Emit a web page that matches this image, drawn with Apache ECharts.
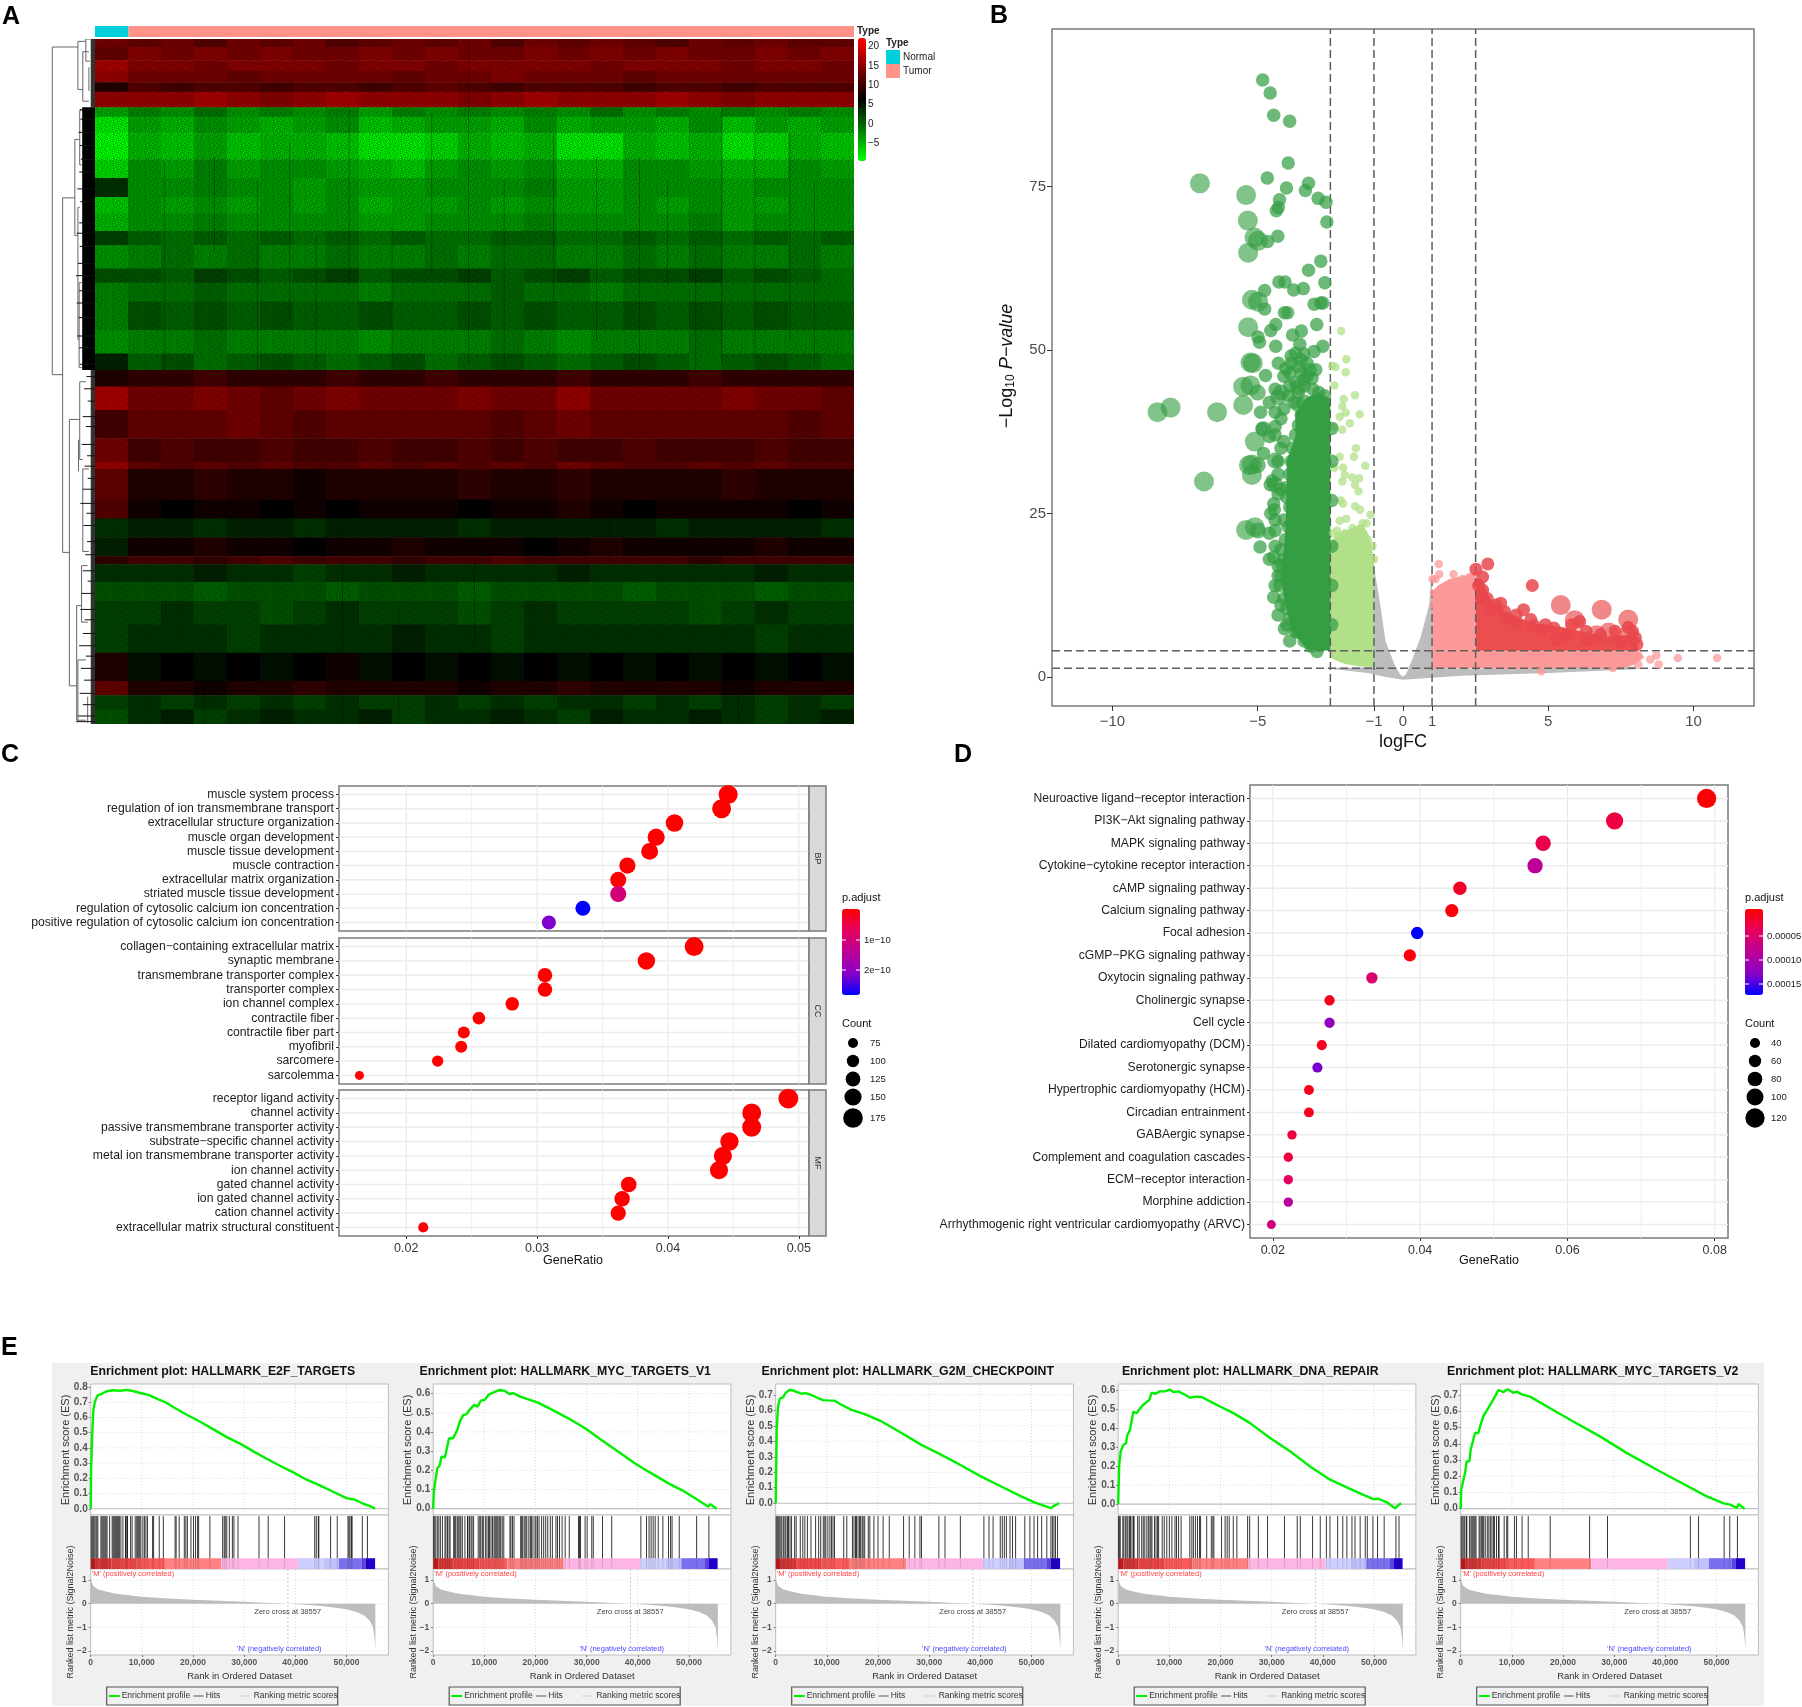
<!DOCTYPE html>
<html>
<head>
<meta charset="utf-8">
<title>Expression, enrichment and GSEA panels</title>
<style>
  html, body { margin: 0; background: #fff; }
  #chart { width: 1802px; height: 1707px; }
</style>
<script src="https://cdn.jsdelivr.net/npm/echarts@6/dist/echarts.min.js"></script>
</head>
<body>
<div id="chart"></div>
<script>
// ---- Panel A: heatmap, first column is the Normal block, the others Tumor
const sampleCounts = [52, 1127]
const heatRowEnds = [17,45,68,92,112,145,165,200,255,295,335,370,407,437,487,517,557,617,667,702,737,787,847,897,912,977,1017,1057,1097,1114,1152,1192,1242,1302,1362,1392,1422,1453]
const heatRows = [
  [13,12,13,11,13,12,13,11,12,13,12,13,11,13,12,13,12,11,13,12,13,12,12],
  [12,14,13,14,13,14,13,13,14,13,14,13,13,14,13,14,13,14,13,13,14,13,14],
  [16,14,14,13,14,14,14,13,14,14,13,14,14,14,14,13,14,14,14,13,14,14,13],
  [15,13,13,13,12,13,13,13,13,12,13,13,14,13,13,13,12,13,13,13,13,13,13],
  [8,11,10,11,11,10,11,11,10,11,12,11,10,11,11,11,10,11,11,10,11,11,11],
  [15,15,15,16,15,14,15,16,15,15,15,14,15,16,15,15,15,16,15,14,15,15,15],
  [-4,-2,-3,-1,-3,-2,-3,-2,-4,-2,-3,-2,-3,-2,-3,-1,-3,-2,-3,-2,-3,-2,-3],
  [-8,-4,-5,-3,-4,-5,-4,-3,-6,-5,-4,-4,-5,-3,-5,-4,-4,-5,-3,-6,-4,-5,-4],
  [-9,-5,-6,-4,-6,-5,-5,-6,-8,-8,-7,-5,-6,-5,-8,-8,-5,-6,-5,-8,-7,-5,-6],
  [-7,-3,-4,-2,-4,-3,-3,-4,-5,-6,-4,-3,-4,-3,-5,-5,-3,-3,-4,-5,-5,-3,-4],
  [3,-3,-3,-2,-3,-3,-4,-3,-4,-4,-3,-3,-3,-2,-4,-4,-3,-3,-3,-4,-3,-3,-3],
  [-6,-3,-4,-3,-4,-3,-4,-3,-5,-4,-4,-3,-4,-3,-4,-4,-3,-4,-3,-4,-4,-3,-3],
  [-5,-3,-3,-2,-3,-3,-3,-3,-4,-4,-3,-3,-3,-2,-3,-3,-3,-3,-2,-4,-3,-3,-3],
  [2,0,-1,0,-1,0,-1,0,-1,0,-1,-1,0,0,-1,-1,0,-1,0,-1,0,-1,0],
  [-3,-2,-1,-2,-1,-2,-2,-1,-2,-2,-1,-2,-1,-1,-2,-2,-1,-2,-1,-2,-2,-1,-2],
  [1,1,0,2,1,0,1,2,0,1,1,2,0,1,2,0,1,1,2,0,1,0,-1],
  [-2,-1,-1,0,-1,-1,-1,-1,-2,-1,-1,-1,0,-1,-1,-2,-1,-1,-1,-1,-1,-1,-1],
  [-2,1,0,1,0,1,0,0,1,0,0,1,0,1,0,0,1,0,1,0,1,0,0],
  [-3,-2,-2,-1,-2,-2,-2,-2,-3,-2,-2,-2,-1,-2,-3,-2,-2,-2,-1,-2,-2,-2,-2],
  [4,0,1,-1,0,1,0,-1,0,1,-1,0,1,0,-1,0,1,0,-1,0,1,0,-1],
  [8,9,9,10,9,9,9,10,9,9,10,9,9,9,10,9,9,9,10,9,9,9,9],
  [16,13,13,14,13,12,13,14,13,13,13,14,13,13,15,13,13,13,13,14,13,13,12],
  [10,12,12,12,13,12,11,12,12,12,12,12,11,12,13,12,12,12,12,12,12,11,12],
  [13,10,11,10,10,11,10,10,11,10,10,11,10,11,10,10,11,10,10,10,11,10,10],
  [15,12,11,12,11,12,11,11,12,11,12,11,12,11,13,12,11,11,12,11,12,11,11],
  [12,8,8,9,8,8,7,8,8,8,8,9,8,8,9,8,8,8,8,9,8,8,8],
  [11,7,6,7,7,6,7,6,7,7,7,6,7,7,8,7,6,7,7,7,7,6,7],
  [3,4,4,3,4,4,3,4,4,4,4,3,4,4,4,4,4,3,4,4,4,4,3],
  [4,7,7,8,7,7,6,7,7,8,7,7,7,6,7,8,7,7,7,7,8,7,7],
  [9,10,10,9,10,11,10,10,10,9,10,10,11,10,10,10,10,10,9,10,10,10,10],
  [3,3,3,4,3,3,2,3,3,4,3,3,3,3,4,3,3,3,3,3,4,3,3],
  [1,1,1,0,1,1,1,0,1,1,1,0,1,1,1,1,0,1,1,1,0,1,1],
  [2,2,3,2,2,1,2,3,2,2,2,1,2,3,2,2,2,2,1,2,3,2,2],
  [2,3,3,3,2,3,3,3,3,4,3,3,2,3,3,3,3,3,3,3,2,3,3],
  [8,5,6,5,6,5,6,7,5,6,5,6,5,6,5,6,5,6,5,6,5,6,5],
  [12,8,8,7,8,8,9,8,8,8,8,7,8,8,9,8,8,8,8,7,8,8,8],
  [2,3,2,3,2,3,2,3,2,2,3,2,3,2,3,3,2,3,2,3,2,3,2],
  [1,3,4,2,3,4,3,3,4,2,3,3,4,3,2,4,3,3,4,3,2,3,4]
]
const heatTicks = [20, 15, 10, 5, 0, -5]
// dark sample streaks seen in the map: [column, row1, row2]
const heatDarkStreaks = [[3.62,250,450],[4.92,300,700],[7.7,150,520],[9,400,700],[11.32,0,145],[11.32,150,690],[13.9,200,560],[16.5,250,700],[17.35,300,520],[19,150,690],[21.06,200,640],[2.1,260,700],[5.9,220,600],[6.7,420,700],[10.2,160,500],[12.4,300,700],[15.2,250,640],[18.2,430,700],[20,200,680],[21.8,300,690],[7.5,1000,1453],[11.5,1100,1300],[15.6,1000,1120],[3.3,1300,1453],[9.2,1200,1453],[19.5,1300,1453]]
// fine grain laid over the map, only a look
const heatGrainTile = [
  '..x...X..x....x..X...x....X.x...',
  '.X...x....x.X.....x..X.x.....x..',
  '...x...x.X.....x.X.....x..X....x',
  'x....X.....x.x....x.X....x..x.X.',
  '..X.x...x.....X.x.....x.X.....x.',
  '.x....x..X.x.....X.x.....x.X....',
  '....X...x....x.x....x.X.....x.X.',
  'x.x...x...X.....X.x.....x.x.....',
  '...x.X..x...x.x.....x.X.....X.x.',
  '.X....x...x.....X.x....x..x....x',
  '..x.x...X...x.x.....X....x..X...',
  'x....x.x...X.....x.x..x.X....x..'
]

// dendrogram: [height1, row1, height2, row2]
const dendroLinks = [
  [70,17,70,712],[70,17,28,17],[70,712,53,712],
  [28,5,28,107],[28,5,15,5],[28,107,20,107],[20,27,20,132],[20,27,10,27],[20,132,10,132],[15,0,15,47],[15,0,8,0],[15,47,8,47],[10,60,10,110],
  [53,337,53,1089],[53,337,33,337],[53,1089,42,1089],
  [33,213,33,417],[33,213,25,213],[33,417,28,417],[25,152,25,267],[25,152,22,152],[25,267,22,267],[28,357,28,637],[28,357,25,357],[28,637,26,637],[26,517,26,697],[26,517,22,517],[26,697,22,697],
  [42,807,42,1372],[42,807,25,807],[42,1372,30,1372],[25,727,25,892],[25,727,15,727],[25,892,20,892],[27,850,27,917],[20,912,20,1087],[20,912,10,912],[20,1087,10,1087],
  [22,1117,22,1237],[22,1117,12,1117],[22,1237,12,1237],[30,1202,30,1445],[30,1202,22,1202],[30,1445,15,1445],[28,1317,28,1447],[28,1317,15,1317],[12,1395,12,1450]
]
// dendrogram leaf clusters: [row1, row2, height]
const dendroLeafBlocks = [[0,145,7],[145,702,21],[702,1453,7]]
const dendroLeafRows = [[150,25],[170,24],[198,27],[226,25],[255,23],[282,26],[318,29],[345,24],[390,26],[412,30],[440,25],[476,28],[502,31],[534,26],[560,30],[591,27],[630,29],[655,26],[690,25],[716,14],[742,18],[768,12],[801,20],[822,15],[860,22],[884,13],[906,17],[932,12],[955,20],[985,24],[1006,14],[1032,19],[1066,13],[1094,16],[1128,20],[1150,12],[1176,22],[1210,24],[1232,17],[1261,20],[1287,26],[1309,15],[1335,23],[1360,18],[1388,25],[1412,20],[1436,28],[1448,31]]

// ---- Panel B: volcano
const logFcTicks = [-10, -5, -1, 0, 1, 5, 10]
const logPTicks = [0, 25, 50, 75]
const logFcCutoffs = [-2.5, -1, 1, 2.5]
const logPCutoffs = [1.33, 4]
// dense clouds, outlined as [logFC, -log10 P]
const greyCloud = [[-2.7,1.4],[-1,1.5],[-1,16.8],[-0.8,11.6],[-0.6,5.5],[-0.3,2],[-0.1,0.4],[0,0.1],[0.1,0.4],[0.3,2.5],[0.6,6],[0.9,11],[1,16.8],[1,1.4],[2.5,1.2],[5,1.4],[8,1.6],[8,1.2],[5,0.6],[2,0.2],[1,-0.1],[0,-0.4],[-0.6,0],[-1.2,0.6],[-2,1]]
const lightGreenCloud = [[-2.5,3],[-2.5,20],[-2.3,22],[-1.9,22.5],[-1.4,23.5],[-1.15,21.5],[-1,18],[-1,1.5],[-1.5,1.6],[-2,2],[-2.35,2.6]]
const pinkCloud = [[1,1.3],[1,13],[1.2,14],[1.6,15],[2.1,15.5],[2.5,16],[2.5,4],[8.1,4],[8.3,3],[8,2],[7.5,1.2],[6,1.4],[4,1.2],[2.5,1.3]]
const redCloud = [[2.5,4],[2.5,15],[2.7,15],[3,12],[3.5,10],[4.5,8.2],[5.5,7.6],[7,6.2],[8,6.5],[8.1,4]]
const darkGreenCloud = [[-2.5,4],[-2.5,42.5],[-2.9,43.5],[-3.3,42.8],[-3.7,40.5],[-3.7,36.8],[-4,33.1],[-4,29.4],[-4.05,22],[-4.2,14.6],[-3.85,7.2],[-3.3,4.2]]
const downLarge = [[-6.99,75.5],[-5.4,73.7],[-5.34,69.8],[-5.11,67.2],[-4.99,66.7],[-5.33,64.9],[-5.2,57.7],[-4.99,57.4],[-5.33,53.5],[-5.17,48],[-5.25,48.1],[-5.5,44.4],[-5.25,44.6],[-5.5,41.6],[-6.4,40.5],[-8.45,40.5],[-8,41.2],[-5.1,36],[-5.2,32.5],[-5.3,32.4],[-6.85,29.9],[-5.2,30.9],[-5.4,22.5],[-5.1,22.9]]
const downMid = [[-5,32.4],[-4.4,33.1],[-4.99,22.4],[-4.4,29.4],[-4.8,37.9],[-5,43.5],[-4.2,43.5],[-3.6,44.3],[-3.6,41.7],[-4.3,42.8],[-3.4,42]]
const downSmall = [[-4.83,91.3],[-4.57,89.3],[-4.45,85.9],[-3.9,85],[-3.95,78.6],[-4.67,76.3],[-3.25,75.5],[-4.01,74.8],[-3.36,74.4],[-4.25,73],[-2.92,73.2],[-2.65,72.6],[-4.29,71.8],[-4.36,71.3],[-2.62,69.6],[-4.31,67.4],[-4.66,66.6],[-2.83,63.6],[-3.25,62.2],[-2.69,60.3],[-4.27,60.4],[-4.06,60.4],[-3.76,59.2],[-3.43,59.4],[-4.76,59.1],[-4.76,56.3],[-4.08,55.7],[-3.97,55.7],[-2.83,57.2],[-3.06,57],[-2.76,57.2],[-2.97,53.9],[-4.38,53.9],[-4.55,53],[-3.5,52.9],[-3.8,52.3],[-4.99,52],[-4.94,51.2],[-4.38,50.6],[-3.55,50.9],[-2.76,50.6],[-3.06,49.8],[-3.41,49.4],[-3.85,49.1],[-4.29,48],[-4.73,46.1],[-3.85,48],[-4.03,47.2],[-3.5,46.5],[-3.13,45.7],[-4.9,40.5],[-4.4,40.5],[-4.4,38.3],[-4.85,38],[-4.6,36.8],[-4.8,34.2],[-4.2,35],[-4.57,29.4],[-4.2,28.7],[-4.45,26.5],[-4.43,25.6],[-4.55,25],[-4.4,22.4],[-4.92,19.9],[-4.45,18.3],[-4.18,17.2],[-4.45,12.2],[-4.08,7.4],[-3.62,6.8],[-3.17,4.7],[-2.96,3.9],[-3.4,5.5],[-3.7,7],[-3.9,9],[-4,10.5],[-4.1,12],[-4.25,14],[-4.2,15.5],[-4.3,17],[-4.1,18],[-4.2,19.5],[-4.05,21],[-3.95,23],[-4.1,24],[-3.9,26],[-4,27.5],[-4,29],[-3.9,31],[-3.85,33],[-3.8,35],[-3.7,37],[-3.6,38.5],[-3.5,40],[-3.75,42],[-3.6,43.5],[-3.4,44.5],[-3.1,44],[-2.9,43.5],[-2.7,43],[-3.3,46],[-3.7,45],[-3.95,43],[-4.1,41],[-2.45,38],[-2.45,33],[-2.45,27],[-2.45,20],[-2.45,14],[-2.45,8],[-3.2,47],[-3.5,48.5],[-3.9,46.5],[-3.6,47.5],[-3.3,48],[-3.7,49.5],[-4.1,46],[-3,47],[-3.4,45.5],[-3.9,44.5],[-4.4,44],[-4.6,42],[-4.2,39.5],[-4.4,37],[-4.1,36],[-4.3,33],[-4.3,31],[-4.5,30],[-4.3,28],[-4.4,24],[-4.6,22],[-4.4,20],[-4.6,18],[-4.3,15.5],[-4.4,14],[-4.2,11],[-4.3,9.5],[-4,8],[-3.9,5.5]]
const midLightGreen = [[-2.13,52.9],[-1.95,48.6],[-2.44,47.6],[-2.32,47.4],[-1.97,46.6],[-2.36,44.6],[-1.65,43.1],[-2.04,42.5],[-2.09,41.4],[-1.49,40.2],[-2.18,39.8],[-1.97,40.4],[-1.83,38.8],[-2.09,37.8],[-2.36,38.3],[-1.62,35],[-1.69,33.7],[-2.18,33.7],[-2.36,32],[-2.06,32],[-1.3,32.3],[-2,30.9],[-1.74,30.5],[-1.51,30.4],[-2.09,29.9],[-1.65,29.4],[-1.53,28.4],[-2.14,27],[-2.06,26.5],[-1.65,26.1],[-1.48,25.6],[-1.12,24.8],[-1.95,24.2],[-1.39,23.5],[-1.74,22.8],[-2.27,22.4],[-2.18,23.9],[-1.25,23.5],[-2.4,22],[-2.2,21],[-2,22],[-1.8,22],[-1.6,21.5],[-1.4,22],[-1.2,21],[-1.05,20],[-1,18]]
const upLarge = [[5.43,11],[6.84,10.3],[7.75,8.8],[5.91,8.7],[6.66,6.4],[7.08,6.8],[7.75,6.4]]
const upSmall = [[2.92,17.3],[2.51,16.5],[2.74,15.3],[2.74,13.3],[4.45,14],[3.36,11.3],[3.01,10.2],[4.15,10.3],[6.08,8.5],[7.75,7.6],[4.5,7.9],[3.53,9],[3.88,8.3],[4.76,7.2],[5.64,6.4],[5.29,5.7],[6.34,5.7],[7.49,5.3],[2.6,14],[2.7,12],[2.9,12],[3.2,11],[3.5,10],[3.9,9.5],[4.4,8.8],[4.9,8],[5.2,7.5],[5.8,8],[6.3,7],[6.8,6.5],[7.3,7],[7.9,7],[8,6],[8.05,5]]
const upPale = [[1.23,17.3],[1.25,15.7],[1.12,15],[1.02,15],[1.74,15.7],[2.04,15],[2.3,15.3],[1.34,13.5],[1.07,12.8],[8.1,3.3],[8.72,3.3],[8.51,2.7],[8.8,1.9],[9.46,2.9],[10.81,2.9],[8.1,1.9],[7.22,1.4],[7.66,2.4],[4.76,0.9],[1.05,11],[1.3,12.5],[1.5,14],[1.6,13.5],[1.9,14.5],[2.2,14.8]]

// ---- Panel C: GO dot plot
const ratioTicksC = [0.02, 0.03, 0.04, 0.05]
const ratioMinorC = [0.025, 0.035, 0.045]
const bpTerms = ['muscle system process','regulation of ion transmembrane transport','extracellular structure organization','muscle organ development','muscle tissue development','muscle contraction','extracellular matrix organization','striated muscle tissue development','regulation of cytosolic calcium ion concentration','positive regulation of cytosolic calcium ion concentration']
const bpRatio = [0.0446,0.0441,0.0405,0.0391,0.0386,0.0369,0.0362,0.0362,0.0335,0.0309]
const bpCount = [170,168,154,149,147,140,138,138,127,117]
const bpPadj = [1e-12,1e-12,1e-12,1e-12,1e-12,2e-12,1e-12,1.05e-10,2.85e-10,2.2e-10]
const ccTerms = ['collagen\u2212containing extracellular matrix','synaptic membrane','transmembrane transporter complex','transporter complex','ion channel complex','contractile fiber','contractile fiber part','myofibril','sarcomere','sarcolemma']
const ccRatio = [0.042,0.03835,0.0306,0.0306,0.0281,0.02555,0.0244,0.0242,0.0224,0.01642]
const ccCount = [168,153,122,122,112,102,97,96,89,65]
const ccPadj = [1e-12,1e-12,1e-12,1e-12,1e-12,1e-12,1e-12,1e-12,1e-12,4e-12]
const mfTerms = ['receptor ligand activity','channel activity','passive transmembrane transporter activity','substrate\u2212specific channel activity','metal ion transmembrane transporter activity','ion channel activity','gated channel activity','ion gated channel activity','cation channel activity','extracellular matrix structural constituent']
const mfRatio = [0.0492,0.0464,0.0464,0.0447,0.0442,0.0439,0.037,0.0365,0.0362,0.0213]
const mfCount = [178,168,168,162,160,159,134,132,131,77]
const mfPadj = [1e-12,1e-12,1e-12,1e-12,1e-12,1e-12,1e-12,1e-12,1e-12,4e-12]
const padjTicksC = [1e-10, 2e-10]
const countLegendC = [75, 100, 125, 150, 175]

// ---- Panel D: KEGG dot plot
const ratioTicksD = [0.02, 0.04, 0.06, 0.08]
const ratioMinorD = [0.03, 0.05, 0.07]
const keggTerms = ['Neuroactive ligand\u2212receptor interaction','PI3K\u2212Akt signaling pathway','MAPK signaling pathway','Cytokine\u2212cytokine receptor interaction','cAMP signaling pathway','Calcium signaling pathway','Focal adhesion','cGMP\u2212PKG signaling pathway','Oxytocin signaling pathway','Cholinergic synapse','Cell cycle','Dilated cardiomyopathy (DCM)','Serotonergic synapse','Hypertrophic cardiomyopathy (HCM)','Circadian entrainment','GABAergic synapse','Complement and coagulation cascades','ECM\u2212receptor interaction','Morphine addiction','Arrhythmogenic right ventricular cardiomyopathy (ARVC)']
const keggRatio = [0.0789,0.0664,0.0567,0.0556,0.0454,0.0443,0.0396,0.0386,0.03345,0.0277,0.0277,0.02665,0.02605,0.0249,0.0249,0.0226,0.0221,0.0221,0.0221,0.0198]
const keggCount = [120,101,86,85,69,67,60,59,51,42,42,40,40,38,38,34,34,34,34,30]
const keggPadj = [3e-6,3e-5,3.5e-5,9e-5,2e-5,5e-6,1.79e-4,6e-6,5.5e-5,1.5e-5,1.25e-4,1.5e-5,1.4e-4,1.3e-5,1.3e-5,3e-5,3e-5,4.5e-5,9.5e-5,7e-5]
const padjTicksD = [0.00005, 0.0001, 0.00015]
const countLegendD = [40, 60, 80, 100, 120]

// ---- Panel E: GSEA plots
const rankTicks = [0, 10000, 20000, 30000, 40000, 50000]
const metricTicks = [1, 0, -1, -2]
const zeroCross = 38557
const metricRank = [0,150,500,1500,3000,5000,8000,10000,15000,20000,25000,30000,35000,38557,42000,45000,48000,50000,52000,53500,54500,55200,55500,55650]
const metricScore = [1.15,0.95,0.75,0.6,0.52,0.42,0.34,0.29,0.22,0.17,0.12,0.08,0.03,0,-0.05,-0.1,-0.17,-0.24,-0.35,-0.5,-0.72,-1,-1.5,-2]
const stripEnds = [0,1000,4000,9000,14500,25500,40500,45500,48500,53000,53800,55600]
const stripColors = ['#c81e1e','#d93a3a','#f04848','#fb5a5a','#ff8181','#fdb6e4','#cfcfff','#c0c0fa','#7a70ee','#5a44e0','#2200cc']

const e2fRank = [0,65,260,520,850,1300,2150,3100,4400,5700,7000,8300,9650,11300,12900,14900,16200,18800,21400,24000,26600,29200,31800,34400,37000,39600,42200,44800,47400,50000,51700,53300,54600,55600]
const e2fEs = [0,.235,.454,.651,.706,.743,.756,.772,.779,.776,.781,.774,.761,.748,.724,.695,.667,.618,.572,.522,.471,.428,.377,.329,.283,.239,.191,.154,.112,.07,.059,.033,.018,0]
const e2fHits = [100,300,500,700,1000,1200,1400,2000,2200,2400,2600,2800,3000,3200,3700,4200,4400,4600,4800,5000,5200,5400,5600,5900,6300,6800,6900,7100,7200,7800,8100,8700,9000,9200,9400,9600,9800,10200,10500,10800,11100,12100,12300,13400,14200,16500,16700,17300,18300,18600,18900,19600,20100,20500,20900,21100,23300,25800,26100,26300,26600,27100,27700,28000,28800,32900,34700,37900,43800,44100,44500,44600,46900,48200,50300,50500,50700,51000,51100,53100,54100]

const myc1Rank = [0,100,450,800,1300,1600,2300,3100,3900,4700,5200,5900,6500,7200,8000,8700,9300,10100,10800,11700,13000,14000,15000,15600,17000,18600,20500,23100,26400,29700,32900,36200,39400,42100,46000,48600,51200,53800,54100,55400]
const myc1Es = [0,.08,.15,.21,.228,.271,.268,.367,.367,.41,.454,.489,.492,.518,.541,.532,.563,.567,.593,.605,.619,.614,.597,.603,.584,.57,.553,.518,.471,.419,.358,.297,.237,.193,.132,.097,.054,.01,.024,0]
const myc1Hits = [100,200,500,800,1100,1400,1800,2300,2500,2800,3100,3300,4000,4200,4400,4700,4900,5200,5400,5700,6200,6700,6800,7100,7400,7600,7900,8800,9100,9300,9600,9800,10200,10500,10800,11000,11300,11600,11900,12100,12300,12500,12700,13000,13200,13500,13800,15000,15200,15500,15800,17100,17300,17500,17800,18100,18300,18700,19000,19200,19500,19900,20100,20400,20700,21200,21600,22000,22400,22900,23300,24000,24300,24700,25200,25800,26600,28400,28600,28800,29700,30100,31000,31300,33100,34900,40600,41700,42200,42600,43000,43400,44000,44900,46000,46400,46700,48100,51500,53900]

const g2mRank = [0,100,200,450,800,1430,1900,2740,3400,4370,5020,5800,6650,7300,8280,9260,10240,11540,12850,14800,17400,20700,24600,28500,32400,36300,40200,44100,48100,50600,53800,54400,55400]
const g2mEs = [0,.216,.474,.625,.675,.683,.711,.733,.728,.716,.707,.711,.703,.694,.679,.666,.664,.662,.636,.603,.575,.528,.453,.377,.312,.244,.172,.108,.043,.006,-.032,-.017,0]
const g2mHits = [100,300,500,700,1000,1200,1500,1800,2000,2300,2500,2800,3100,3700,4000,4800,5300,5700,6200,6900,7800,8400,8800,9300,9600,9800,10200,10600,10900,11200,11500,13300,13900,15000,15300,15600,15800,16100,16400,16600,16900,17100,17400,18100,18400,19200,20000,21000,22200,25000,26100,27200,28200,28500,31900,33100,36100,40700,41700,42500,43900,44300,44700,45100,45800,46300,46900,48700,49700,50500,51200,52000,53000,53800,54100,54400,54700,55100]

const dnaRank = [0,100,200,480,1000,1530,1800,2300,2960,3610,4130,4920,6090,6550,7200,8170,9150,10130,10780,11760,13070,14040,15020,16330,17950,19910,22520,25780,29690,33600,37510,41420,44680,47940,49900,50880,52510,54140,54800,55320]
const dnaEs = [0,.109,.206,.277,.312,.321,.365,.392,.489,.48,.501,.525,.551,.59,.583,.596,.596,.605,.593,.596,.578,.562,.568,.566,.543,.516,.481,.428,.349,.279,.199,.129,.088,.048,.026,.028,.009,-.023,-.005,.004]
const dnaHits = [100,200,400,900,1100,1400,1700,1900,2200,2400,2700,3000,3100,3800,4100,4600,4900,5200,5600,5900,6200,6400,6600,7100,7400,7700,7900,8600,9000,9500,10000,10500,11100,11400,11800,12300,14000,14400,14700,15100,15500,15900,16100,17300,18200,18500,18700,20200,20900,21300,21700,22500,23200,25300,25700,27400,29200,32500,35000,35600,38000,39500,40700,41400,42900,43900,44700,45700,46300,47300,48300,48700,49800,50700,52000,54300,54900]

const myc2Rank = [0,100,400,850,1170,1700,1950,2800,3460,3780,4430,5410,6390,7370,8350,9190,10300,10950,11930,13560,17470,22000,27300,32500,39000,44200,48100,51400,52700,54000,54300,55500]
const myc2Es = [0,.117,.159,.22,.292,.292,.364,.467,.467,.509,.572,.623,.675,.733,.72,.737,.716,.723,.706,.692,.62,.538,.445,.343,.23,.142,.076,.033,.025,.004,.029,0]
const myc2Hits = [100,300,600,800,1100,1200,1700,2000,2200,2400,2600,2800,3000,3600,3800,4100,4300,4500,4800,5200,5500,5800,6100,6400,6600,7000,7400,7500,8500,9000,9200,10500,10900,12000,13200,17500,25200,28700,44900,46500,51500,52600,54100]

const gseaPanels = [
  { name: 'HALLMARK_E2F_TARGETS', rank: e2fRank, es: e2fEs, hits: e2fHits, esTicks: [0,.1,.2,.3,.4,.5,.6,.7,.8], esMin: -0.041, esMax: 0.82 },
  { name: 'HALLMARK_MYC_TARGETS_V1', rank: myc1Rank, es: myc1Es, hits: myc1Hits, esTicks: [0,.1,.2,.3,.4,.5,.6], esMin: -0.033, esMax: 0.65 },
  { name: 'HALLMARK_G2M_CHECKPOINT', rank: g2mRank, es: g2mEs, hits: g2mHits, esTicks: [0,.1,.2,.3,.4,.5,.6,.7], esMin: -0.076, esMax: 0.77 },
  { name: 'HALLMARK_DNA_REPAIR', rank: dnaRank, es: dnaEs, hits: dnaHits, esTicks: [0,.1,.2,.3,.4,.5,.6], esMin: -0.058, esMax: 0.635 },
  { name: 'HALLMARK_MYC_TARGETS_V2', rank: myc2Rank, es: myc2Es, hits: myc2Hits, esTicks: [0,.1,.2,.3,.4,.5,.6,.7], esMin: -0.039, esMax: 0.77 }
]

// ---- option building
const FONT = '"Liberation Sans", Arial, sans-serif'
const grids = []
const xAxes = []
const yAxes = []
const series = []
const graphics = []

const minus = v => String(v).replace('-', '\u2212')

const axis = (gridIndex, min, max, o = {}) => ({
  type: 'value',
  gridIndex, min, max,
  inverse: !!o.inverse,
  splitLine: { show: false },
  axisLine: { show: false, onZero: false },
  axisTick: { show: !!o.ticks, length: o.tickLen || 3, lineStyle: { color: o.tickColor || '#333' }, customValues: o.ticks },
  axisLabel: {
    show: !!o.ticks, customValues: o.ticks, formatter: o.fmt, fontSize: o.size || 12, color: o.color || '#222',
    fontWeight: o.weight || 'normal', margin: o.margin || 5, fontFamily: FONT, hideOverlap: false
  }
})

const addGrid = (box, xa, ya, style = {}) => {
  const g = grids.length
  grids.push({ left: box[0], top: box[1], width: box[2] - box[0], height: box[3] - box[1], show: true, containLabel: false,
    backgroundColor: style.bg || 'transparent', borderColor: style.border || 'transparent', borderWidth: style.borderWidth || 0, z: style.z || 0 })
  xAxes.push(axis(g, xa[0], xa[1], xa[2]))
  yAxes.push(axis(g, ya[0], ya[1], ya[2]))
  return g
}

const custom = (g, data, renderItem) => {
  series.push({ type: 'custom', coordinateSystem: 'cartesian2d', xAxisIndex: g, yAxisIndex: g, data, renderItem, silent: true, clip: true })
  return series.length - 1
}

const segments = (g, data, style) => custom(g, data, (p, api) => {
  const a = api.coord([api.value(0), api.value(1)])
  const b = api.coord([api.value(2), api.value(3)])
  return { type: 'line', shape: { x1: a[0], y1: a[1], x2: b[0], y2: b[1] }, style }
})

const boxes = (g, data, fillOf) => custom(g, data, (p, api) => {
  const a = api.coord([api.value(0), api.value(1)])
  const b = api.coord([api.value(2), api.value(3)])
  return { type: 'rect', shape: { x: Math.min(a[0], b[0]), y: Math.min(a[1], b[1]), width: Math.abs(b[0] - a[0]), height: Math.abs(b[1] - a[1]) }, style: { fill: fillOf(p.dataIndex) } }
})

const polygon = (g, verts, fill) => custom(g, [0], (p, api) => ({
  type: 'polygon', shape: { points: verts.map(v => api.coord(v)) }, style: { fill }
}))

const bubbles = (g, data, size, color, opacity) => {
  series.push({ type: 'scatter', xAxisIndex: g, yAxisIndex: g, data, symbolSize: size, itemStyle: { color, opacity }, silent: true })
}

const txt = (x, y, text, o = {}) => graphics.push({
  type: 'text', x, y, rotation: o.rot || 0, silent: true, z: 60,
  style: { text, fontSize: o.size || 12, fontWeight: o.weight || 'normal', fontStyle: o.fontStyle || 'normal', fill: o.color || '#222', align: o.align || 'left', verticalAlign: o.valign || 'middle', fontFamily: FONT, rich: o.rich }
})
const rect = (x, y, w, h, fill, stroke, lineWidth) => graphics.push({
  type: 'rect', shape: { x, y, width: w, height: h }, silent: true, z: 50, style: { fill: fill || 'transparent', stroke: stroke || null, lineWidth: lineWidth || 0 }
})
const gline = (x1, y1, x2, y2, stroke, lineWidth) => graphics.push({
  type: 'line', shape: { x1, y1, x2, y2 }, silent: true, z: 55, style: { stroke, lineWidth: lineWidth || 1 }
})
const dot = (x, y, d, fill) => graphics.push({
  type: 'circle', shape: { cx: x, cy: y, r: d / 2 }, silent: true, z: 55, style: { fill: fill || '#000' }
})

const grainPattern = () => {
  const canvas = document.createElement('canvas')
  canvas.width = heatGrainTile[0].length
  canvas.height = heatGrainTile.length
  const ctx = canvas.getContext('2d')
  heatGrainTile.forEach((row, y) => row.split('').forEach((c, x) => {
    if (c === '.') return
    ctx.fillStyle = c === 'X' ? 'rgba(0,0,0,0.42)' : 'rgba(0,0,0,0.2)'
    ctx.fillRect(x, y, 1, 1)
  }))
  return { image: canvas, repeat: 'repeat' }
}

// panel letters
;[['A', 2, 17], ['B', 990, 16], ['C', 1, 755], ['D', 954, 755], ['E', 1, 1348]].forEach(l => txt(l[1], l[2], l[0], { size: 25, weight: 'bold', color: '#000' }))

// ---- A
const annoGrid = addGrid([95, 26, 854, 37], [0, sampleCounts[0] + sampleCounts[1]], [0, 1])
boxes(annoGrid, [[0, 0, sampleCounts[0], 1], [sampleCounts[0], 0, sampleCounts[0] + sampleCounts[1], 1]], i => ['#00d0dc', '#ff9289'][i])

const heatGrid = addGrid([95, 39, 854, 724], [0, 23], [0, 1453, { inverse: true }])
const heatCells = []
heatRows.forEach((row, r) => row.forEach((v, c) => heatCells.push([c, r, v])))
const heatSeries = custom(heatGrid, heatCells, (p, api) => {
  const c = api.value(0), r = api.value(1)
  const a = api.coord([c, r === 0 ? 0 : heatRowEnds[r - 1]])
  const b = api.coord([c + 1, heatRowEnds[r]])
  return { type: 'rect', shape: { x: a[0], y: a[1], width: b[0] - a[0] + 0.5, height: b[1] - a[1] + 0.5 }, style: { fill: api.visual('color') } }
})
segments(heatGrid, heatDarkStreaks.map(s => [s[0], s[1], s[0], s[2]]), { stroke: '#000', lineWidth: 1, opacity: 0.3 })
graphics.push({ type: 'rect', shape: { x: 95, y: 39, width: 759, height: 685 }, silent: true, z: 40, style: { fill: grainPattern() } })

const dendroGrid = addGrid([48, 39, 95, 724], [77, 0], [0, 1453, { inverse: true }])
segments(dendroGrid, dendroLinks, { stroke: '#666', lineWidth: 1 })
boxes(dendroGrid, dendroLeafBlocks.map(b => [b[2], b[0], 0, b[1]]), i => ['#333', '#000', '#333'][i])
segments(dendroGrid, dendroLeafRows.map(l => [l[1], l[0], 0, l[0]]), { stroke: '#111', lineWidth: 1 })

txt(857, 31, 'Type', { size: 10, weight: 'bold', color: '#222' })
heatTicks.forEach((t, i) => txt(868, 46.5 + i * 19.4, minus(t), { size: 10, color: '#222' }))
txt(886, 43, 'Type', { size: 10, weight: 'bold', color: '#222' })
rect(886, 50, 14, 14, '#00d0dc')
rect(886, 64, 14, 14, '#ff9289')
txt(903, 57, 'Normal', { size: 10, color: '#222' })
txt(903, 71, 'Tumor', { size: 10, color: '#222' })

// ---- B
const pMin = -4.43, pMax = 99.1
const volcanoGrid = addGrid([1052, 29, 1754, 706],
  [-12.08, 12.08, { ticks: logFcTicks, fmt: minus, size: 15, color: '#4d4d4d', tickLen: 5, margin: 8 }],
  [pMin, pMax, { ticks: logPTicks, fmt: minus, size: 15, color: '#4d4d4d', tickLen: 5, margin: 6 }],
  { border: '#7a7a7a', borderWidth: 1.5 })
polygon(volcanoGrid, greyCloud, '#bdbdbd')
polygon(volcanoGrid, lightGreenCloud, '#b2e089')
polygon(volcanoGrid, pinkCloud, '#fb9a99')
polygon(volcanoGrid, redCloud, '#ec4e50')
polygon(volcanoGrid, darkGreenCloud, '#359e42')
bubbles(volcanoGrid, midLightGreen, 8.5, '#b2e089', 0.75)
bubbles(volcanoGrid, upPale, 8.5, '#fb9a99', 0.75)
bubbles(volcanoGrid, upSmall, 13, '#e8484c', 0.85)
bubbles(volcanoGrid, upLarge, 20, '#e8484c', 0.65)
bubbles(volcanoGrid, downSmall, 13.5, '#359e42', 0.72)
bubbles(volcanoGrid, downMid, 16, '#359e42', 0.68)
bubbles(volcanoGrid, downLarge, 20, '#359e42', 0.62)
const cutStyle = { stroke: '#5f5f5f', lineWidth: 1.5, lineDash: [8, 4] }
segments(volcanoGrid, logFcCutoffs.map(v => [v, pMin, v, pMax]), cutStyle)
segments(volcanoGrid, logPCutoffs.map(v => [-12.08, v, 12.08, v]), cutStyle)
txt(1403, 742, 'logFC', { size: 18, align: 'center', color: '#111' })
txt(1007, 366, '{a|\u2212Log}{b|10}{c| P\u2212value}', {
  rot: Math.PI / 2, align: 'center',
  rich: { a: { fontSize: 18, fill: '#111', fontFamily: FONT }, b: { fontSize: 12, fill: '#111', fontFamily: FONT, verticalAlign: 'bottom', padding: [8, 0, 0, 0] }, c: { fontSize: 18, fill: '#111', fontStyle: 'italic', fontFamily: FONT } }
})

// ---- C and D share the dot plot drawing
const dotFacet = (box, xMin, xMax, ticks, minor, terms, ratio, count, padj, showX, sizeOf, labelSize) => {
  const n = terms.length
  const g = addGrid(box,
    [xMin, xMax, showX ? { ticks, fmt: v => v.toFixed(2), size: 12.5, color: '#333', margin: 6 } : {}],
    [-0.6, n - 0.4, { inverse: true, ticks: terms.map((t, i) => i), fmt: v => terms[v], size: labelSize, color: '#1c1c1c', margin: 5 }],
    { border: '#7a7a7a', borderWidth: 1.5 })
  segments(g, minor.map(v => [v, -0.6, v, n - 0.4]), { stroke: '#f0f0f0', lineWidth: 1 })
  segments(g, ticks.map(v => [v, -0.6, v, n - 0.4]), { stroke: '#e6e6e6', lineWidth: 1 })
  segments(g, terms.map((t, i) => [xMin, i, xMax, i]), { stroke: '#ececec', lineWidth: 1.5 })
  series.push({ type: 'scatter', xAxisIndex: g, yAxisIndex: g, data: ratio.map((r, i) => [r, i, count[i], padj[i]]), symbolSize: v => sizeOf(v[2]), itemStyle: { opacity: 1 }, silent: true, clip: true })
  return series.length - 1
}

const sizeC = c => 0.096 * c + 2.8
const cXMin = 0.01486, cXMax = 0.05078
const cSeries = [
  dotFacet([339, 786, 809, 931], cXMin, cXMax, ratioTicksC, ratioMinorC, bpTerms, bpRatio, bpCount, bpPadj, false, sizeC, 12.2),
  dotFacet([339, 938, 809, 1084], cXMin, cXMax, ratioTicksC, ratioMinorC, ccTerms, ccRatio, ccCount, ccPadj, false, sizeC, 12.2),
  dotFacet([339, 1090, 809, 1236], cXMin, cXMax, ratioTicksC, ratioMinorC, mfTerms, mfRatio, mfCount, mfPadj, true, sizeC, 12.2)
]
;[['BP', 786, 931], ['CC', 938, 1084], ['MF', 1090, 1236]].forEach(f => {
  rect(809, f[1], 17, f[2] - f[1], '#d9d9d9', '#7a7a7a', 1.5)
  txt(817.5, (f[1] + f[2]) / 2, f[0], { size: 9, rot: -Math.PI / 2, align: 'center', color: '#333' })
})
txt(573, 1261, 'GeneRatio', { size: 12.5, align: 'center', color: '#111' })

const sizeD = c => 0.115 * c + 5.5
const dSeries = dotFacet([1250, 785, 1728, 1238], 0.0169, 0.0818, ratioTicksD, ratioMinorD, keggTerms, keggRatio, keggCount, keggPadj, true, sizeD, 12.15)
txt(1489, 1261, 'GeneRatio', { size: 12.5, align: 'center', color: '#111' })

const legendRows = [1043, 1061, 1079, 1097, 1118]
const padjLegend = (x, ticks, tickYs, fmt) => {
  txt(x, 898, 'p.adjust', { size: 11, color: '#111' })
  ticks.forEach((t, i) => {
    gline(x, tickYs[i], x + 4, tickYs[i], '#fff', 1)
    gline(x + 14, tickYs[i], x + 18, tickYs[i], '#fff', 1)
    txt(x + 22, tickYs[i], fmt(t), { size: 9.5, color: '#222' })
  })
}
padjLegend(842, padjTicksC, [940, 970], t => t === 1e-10 ? '1e\u221210' : '2e\u221210')
padjLegend(1745, padjTicksD, [936, 960, 984], t => t.toFixed(5))
txt(842, 1024, 'Count', { size: 11, color: '#111' })
countLegendC.forEach((c, i) => { dot(853, legendRows[i], sizeC(c)); txt(870, legendRows[i], String(c), { size: 9.5 }) })
txt(1745, 1024, 'Count', { size: 11, color: '#111' })
countLegendD.forEach((c, i) => { dot(1755, legendRows[i], sizeD(c)); txt(1771, legendRows[i], String(c), { size: 9.5 }) })

// ---- E
addGrid([52, 1363, 1764, 1706], [0, 1], [0, 1], { bg: '#f0f0f0', z: -1 })
const rankMax = 58200
const gridDots = { stroke: '#dcdcdc', lineWidth: 1, lineDash: [1, 2] }
gseaPanels.forEach((p, i) => {
  const left = 90.7 + 342.5 * i
  const right = left + 297.7
  const frame = { bg: '#fff', border: '#bdbdbd', borderWidth: 1 }
  const tickStyle = { size: 10, color: '#555', weight: 'bold', tickLen: 2, tickColor: '#777', margin: 3 }

  const top = addGrid([left, 1384, right, 1515], [0, rankMax], [p.esMin, p.esMax, Object.assign({ ticks: p.esTicks, fmt: v => v.toFixed(1) }, tickStyle)], frame)
  segments(top, rankTicks.slice(1).map(r => [r, p.esMin, r, p.esMax]), gridDots)
  segments(top, p.esTicks.slice(1).map(e => [0, e, rankMax, e]), gridDots)
  segments(top, [[0, 0, rankMax, 0]], { stroke: '#bdbdbd', lineWidth: 1.2 })
  series.push({ type: 'line', xAxisIndex: top, yAxisIndex: top, data: p.rank.map((r, j) => [r, p.es[j]]), showSymbol: false, silent: true, lineStyle: { color: '#00f000', width: 2.4 }, z: 3 })

  const mid = addGrid([left, 1515, right, 1569], [0, rankMax], [1, 0], frame)
  boxes(mid, stripColors.map((c, j) => [stripEnds[j], 0.8, stripEnds[j + 1], 1]), j => stripColors[j])
  segments(mid, p.hits.map(r => [r, 0.02, r, 0.8]), { stroke: '#000', lineWidth: 1, opacity: 0.78 })
  segments(mid, p.hits.map(r => [r, 0.8, r, 1]), { stroke: '#000', lineWidth: 1, opacity: 0.12 })

  const bot = addGrid([left, 1569, right, 1655],
    [0, rankMax, { ticks: rankTicks, fmt: v => v.toLocaleString('en-US'), size: 8.5, color: '#555', weight: 'bold', tickLen: 2, tickColor: '#777', margin: 3 }],
    [-2.18, 1.47, { ticks: metricTicks, fmt: minus, size: 8.5, color: '#555', weight: 'bold', tickLen: 2, tickColor: '#777', margin: 4 }], frame)
  segments(bot, rankTicks.slice(1).map(r => [r, -2.18, r, 1.47]), gridDots)
  segments(bot, metricTicks.map(m => [0, m, rankMax, m]), gridDots)
  series.push({ type: 'line', xAxisIndex: bot, yAxisIndex: bot, data: metricRank.map((r, j) => [r, metricScore[j]]), showSymbol: false, silent: true, lineStyle: { width: 0 }, areaStyle: { color: '#bdbdbd', opacity: 1 }, z: 3 })
  segments(bot, [[zeroCross, 1.47, zeroCross, -1.9]], { stroke: '#c8c8c8', lineWidth: 1, lineDash: [2, 2] })

  txt(left + 132, 1372, 'Enrichment plot: ' + p.name, { size: 12.3, weight: 'bold', align: 'center', color: '#111' })
  txt(left - 25, 1450, 'Enrichment score (ES)', { size: 11, rot: Math.PI / 2, align: 'center', color: '#333' })
  txt(left - 19.7, 1612, 'Ranked list metric (Signal2Noise)', { size: 9, rot: Math.PI / 2, align: 'center', color: '#333' })
  txt(left + 149, 1676, 'Rank in Ordered Dataset', { size: 9.5, align: 'center', color: '#333' })
  txt(left + 1, 1573.5, "'M' (positively correlated)", { size: 7.5, color: '#ff4040' })
  txt(left + 188.6, 1649, "'N' (negatively correlated)", { size: 7.5, align: 'center', color: '#4a4aff' })
  txt(left + 197, 1612, 'Zero cross at ' + zeroCross, { size: 7.5, align: 'center', color: '#444' })

  rect(left + 16, 1687, 231, 18, '#f0f0f0', '#555', 1.2)
  gline(left + 18, 1696, left + 29, 1696, '#00f000', 2)
  txt(left + 31, 1695.5, 'Enrichment profile', { size: 8.5, color: '#333' })
  gline(left + 103, 1696, left + 113, 1696, '#555', 1)
  txt(left + 115, 1695.5, 'Hits', { size: 8.5, color: '#333' })
  gline(left + 149, 1696, left + 159, 1696, '#ccc', 1)
  txt(left + 163, 1695.5, 'Ranking metric scores', { size: 8.5, color: '#333' })
})

const padjColors = ['#ff0000', '#e5005f', '#bd0096', '#8a00c8', '#0000ff']
const visualMaps = [
  { type: 'continuous', seriesIndex: heatSeries, dimension: 2, min: -9.8, max: 21.7, left: 858, top: 38, itemWidth: 8, itemHeight: 123, padding: 0, hoverLink: false, calculable: false, text: null, inRange: { color: ['#00ff00', '#000000', '#ff0000'] } },
  { type: 'continuous', seriesIndex: cSeries, dimension: 3, min: 0, max: 2.85e-10, left: 842, top: 909, itemWidth: 18, itemHeight: 86, padding: 0, inverse: true, hoverLink: false, calculable: false, text: null, inRange: { color: padjColors } },
  { type: 'continuous', seriesIndex: dSeries, dimension: 3, min: 0, max: 1.79e-4, left: 1745, top: 909, itemWidth: 18, itemHeight: 86, padding: 0, inverse: true, hoverLink: false, calculable: false, text: null, inRange: { color: padjColors } }
]

const chart = echarts.init(document.getElementById('chart'), null, { renderer: 'canvas' })
chart.setOption({
  animation: false,
  backgroundColor: '#fff',
  textStyle: { fontFamily: FONT },
  grid: grids,
  xAxis: xAxes,
  yAxis: yAxes,
  series,
  visualMap: visualMaps,
  graphic: { elements: graphics }
})
</script>
</body>
</html>
